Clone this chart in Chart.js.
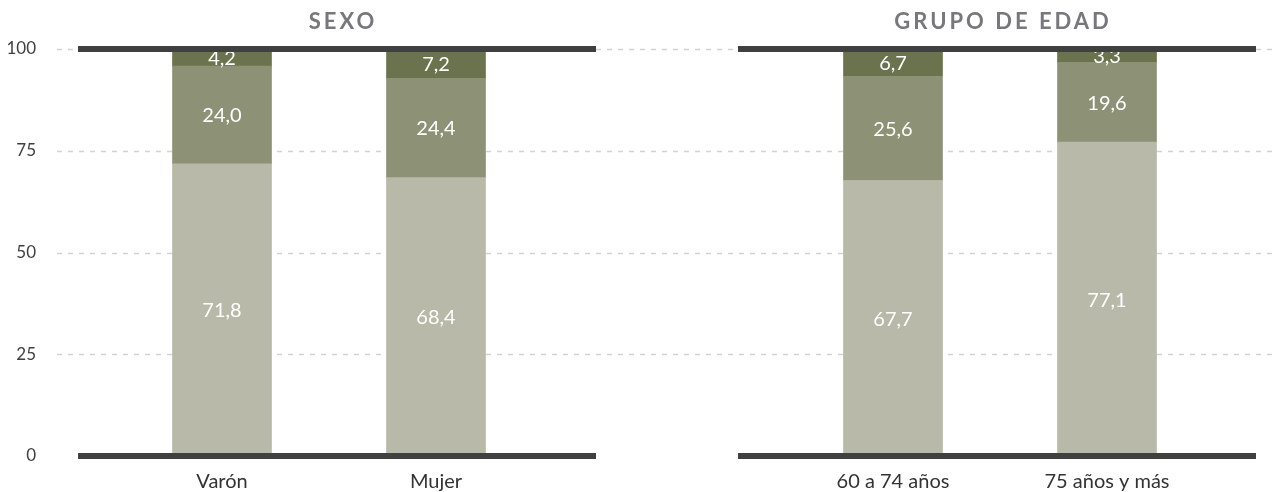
<!DOCTYPE html>
<html>
<head>
<meta charset="utf-8">
<script src="https://cdn.jsdelivr.net/npm/chart.js@4.4.1/dist/chart.umd.min.js"></script>
<style>
  html, body { margin: 0; padding: 0; background: #ffffff; }
  #wrap { position: relative; width: 1274px; height: 492px; overflow: hidden; }
  canvas { position: absolute; left: 0; top: 0; }
  .ttl { position: absolute; top: 9px; height: 24px; line-height: 24px; font-family: Lato, "Open Sans", sans-serif;
         font-weight: 700; font-size: 22px; letter-spacing: 3px; color: #77787c; text-align: center; white-space: nowrap; }
</style>
</head>
<body>
<div id="wrap">
  <canvas id="cLeft" width="1274" height="492"></canvas>
  <canvas id="cRight" width="1274" height="492"></canvas>
  <div class="ttl" id="tLeft" style="left:240px;width:200px;padding-left:3px;">SEXO</div>
  <div class="ttl" id="tRight" style="left:850px;width:300px;padding-left:3px;">GRUPO DE EDAD</div>
</div>
<script>
// ---- data ----
const sexCategories = ["Varón", "Mujer"];
const ageCategories = ["60 a 74 años", "75 años y más"];
const seriesNames = ["Serie 1", "Serie 2", "Serie 3"];
const sexBottom = [71.8, 68.4];
const sexMiddle = [24.0, 24.4];
const sexTop = [4.2, 7.2];
const ageBottom = [67.7, 77.1];
const ageMiddle = [25.6, 19.6];
const ageTop = [6.7, 3.3];
const yTickValues = [0, 25, 50, 75, 100];
const panelTitles = ["SEXO", "GRUPO DE EDAD"];

// ---- styles ----
const COLORS = ["#b8b9a8", "#8d9276", "#6a734d"];
const FONT = "Lato, 'Open Sans', sans-serif";
document.getElementById('tLeft').textContent = panelTitles[0];
document.getElementById('tRight').textContent = panelTitles[1];

function makeDatasets(bottom, middle, top) {
  return [bottom, middle, top].map((vals, i) => ({
    label: seriesNames[i],
    data: vals,
    backgroundColor: COLORS[i],
    borderWidth: 0,
    barThickness: 99,
    stack: 's'
  }));
}

const decor = {
  id: 'decor',
  beforeDatasetsDraw(chart, args, opts) {
    if (!opts.grid) return;
    const ctx = chart.ctx, y = chart.scales.y;
    ctx.save();
    ctx.strokeStyle = '#d2d2d2';
    ctx.lineWidth = 1.5;
    ctx.setLineDash([5, 6]);
    yTickValues.forEach(v => {
      if (v === 0) return;
      const py = Math.round(y.getPixelForValue(v)) + 0.5;
      ctx.beginPath();
      ctx.moveTo(opts.gridFrom, py);
      ctx.lineTo(chart.width, py);
      ctx.stroke();
    });
    ctx.restore();
  },
  afterDatasetsDraw(chart, args, opts) {
    const ctx = chart.ctx, y = chart.scales.y;
    ctx.save();
    // value labels
    ctx.fillStyle = '#ffffff';
    ctx.font = '20px ' + FONT;
    ctx.textAlign = 'center';
    ctx.textBaseline = 'middle';
    chart.data.datasets.forEach((ds, di) => {
      const meta = chart.getDatasetMeta(di);
      meta.data.forEach((bar, j) => {
        const v = ds.data[j];
        const cy = (bar.y + bar.base) / 2;
        ctx.fillText(v.toFixed(1).replace('.', ','), bar.x, cy + 1);
      });
    });
    // thick panel lines at 0 and 100
    ctx.setLineDash([]);
    ctx.strokeStyle = '#404040';
    ctx.lineWidth = 6;
    [0, 100].forEach(v => {
      const py = y.getPixelForValue(v);
      ctx.beginPath();
      ctx.moveTo(opts.lineFrom, py);
      ctx.lineTo(opts.lineTo, py);
      ctx.stroke();
    });
    ctx.restore();
  }
};

function xScale() {
  return {
    type: 'category',
    stacked: true,
    grid: { display: false, drawTicks: false },
    border: { display: false },
    ticks: { color: '#333333', font: { family: FONT, size: 20 }, padding: 14 },
    afterFit: s => { s.height = 36; }
  };
}

new Chart(document.getElementById('cLeft'), {
  type: 'bar',
  data: { labels: sexCategories, datasets: makeDatasets(sexBottom, sexMiddle, sexTop) },
  options: {
    responsive: false,
    animation: false,
    layout: { padding: { left: 0, right: 731, top: 49, bottom: 0 } },
    plugins: {
      legend: { display: false }, tooltip: { enabled: false },
      decor: { grid: true, gridFrom: 57, lineFrom: 78, lineTo: 596 }
    },
    scales: {
      x: xScale(),
      y: {
        stacked: true, min: 0, max: 100,
        grid: { display: false, drawTicks: false },
        border: { display: false },
        afterBuildTicks: s => { s.ticks = yTickValues.map(v => ({ value: v })); },
        ticks: { color: '#404040', font: { family: FONT, size: 17 }, padding: 79 },
        afterFit: s => { s.width = 115; s.paddingTop = 0; s.paddingBottom = 0; }
      }
    }
  },
  plugins: [decor]
});

new Chart(document.getElementById('cRight'), {
  type: 'bar',
  data: { labels: ageCategories, datasets: makeDatasets(ageBottom, ageMiddle, ageTop) },
  options: {
    responsive: false,
    animation: false,
    layout: { padding: { left: 786, right: 60, top: 49, bottom: 0 } },
    plugins: {
      legend: { display: false }, tooltip: { enabled: false },
      decor: { grid: false, lineFrom: 738, lineTo: 1256 }
    },
    scales: {
      x: xScale(),
      y: { stacked: true, min: 0, max: 100, display: false }
    }
  },
  plugins: [decor]
});
</script>
</body>
</html>
